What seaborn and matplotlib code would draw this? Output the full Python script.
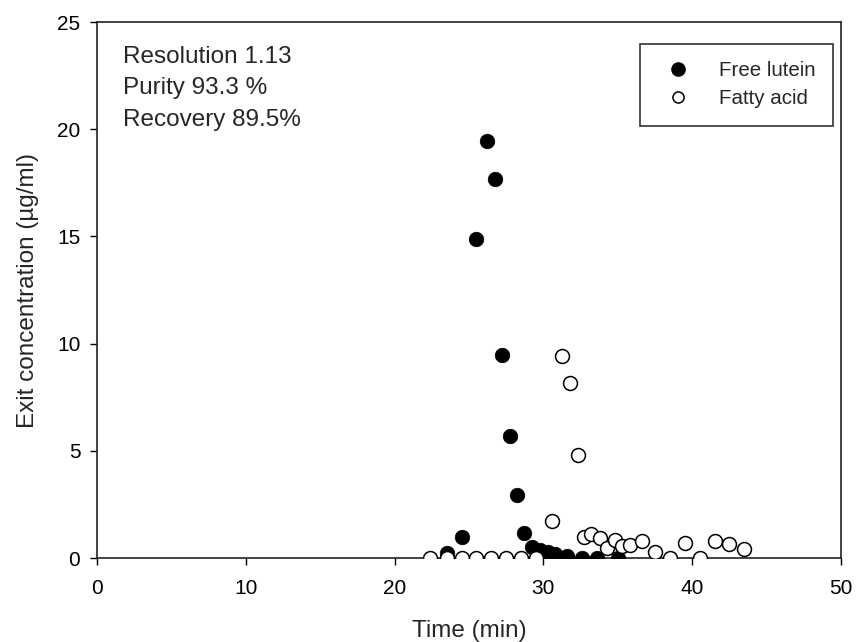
import pandas as pd
import matplotlib
matplotlib.use("Agg")
import matplotlib.pyplot as plt
import seaborn as sns
from matplotlib.lines import Line2D

# Free lutein (filled circles)
lutein_time = [23.5, 24.5, 25.5, 26.2, 26.75, 27.2, 27.75, 28.2, 28.7, 29.2, 29.8, 30.3, 30.8, 31.6, 32.6, 33.6, 35.0]
lutein_conc = [0.25, 1.0, 14.9, 19.45, 17.7, 9.47, 5.7, 2.95, 1.17, 0.52, 0.37, 0.28, 0.2, 0.1, 0.0, 0.0, 0.0]

# Fatty acid (open circles)
fatty_time = [22.4, 23.5, 24.5, 25.5, 26.5, 27.5, 28.5, 29.5, 30.6, 31.25, 31.8, 32.3, 32.7, 33.2, 33.8,
              34.3, 34.8, 35.3, 35.8, 36.6, 37.5, 38.5, 39.5, 40.5, 41.5, 42.5, 43.5]
fatty_conc = [0.0, 0.0, 0.0, 0.0, 0.0, 0.0, 0.0, 0.0, 1.73, 9.4, 8.15, 4.8, 1.0, 1.1, 0.95,
              0.45, 0.85, 0.55, 0.6, 0.8, 0.3, 0.0, 0.7, 0.0, 0.8, 0.65, 0.42]

annotation_lines = ["Resolution 1.13", "Purity 93.3 %", "Recovery 89.5%"]

sns.set_style("ticks")
plt.rcParams['font.family'] = ['Liberation Sans', 'DejaVu Sans']

lutein = pd.DataFrame({"time": lutein_time, "conc": lutein_conc})
fatty = pd.DataFrame({"time": fatty_time, "conc": fatty_conc})

fig = plt.figure(figsize=(8.56, 6.42), dpi=100)
ax = fig.add_axes([0.1133, 0.1308, 0.8692, 0.8349])

sns.scatterplot(data=lutein, x="time", y="conc", ax=ax, color="black", edgecolor="black",
                s=110, linewidth=0.5, zorder=3)
sns.scatterplot(data=fatty, x="time", y="conc", ax=ax, facecolor="white", edgecolor="black",
                s=100, linewidth=1.1, zorder=4)

ax.set_xlim(0, 50)
ax.set_ylim(0, 25)
ax.set_xticks([0, 10, 20, 30, 40, 50])
ax.set_yticks([0, 5, 10, 15, 20, 25])
ax.tick_params(axis="both", direction="out", labelsize=15, width=1, length=5,
               color="black", labelcolor="black")
ax.tick_params(axis="x", pad=10)
ax.tick_params(axis="y", pad=7)
for sp in ax.spines.values():
    sp.set_visible(True)
    sp.set_color("#222222")
    sp.set_linewidth(1.2)

ax.set_xlabel("Time (min)", fontsize=17.5, labelpad=16)
ax.set_ylabel("Exit concentration (µg/ml)", fontsize=17.5, labelpad=13)

ax.text(0.035, 0.955, "\n".join(annotation_lines), transform=ax.transAxes, fontsize=17.5,
        va="top", ha="left", linespacing=1.55)

handles = [
    Line2D([], [], marker="o", linestyle="none", color="black", markersize=9.5),
    Line2D([], [], marker="o", linestyle="none", markerfacecolor="white", markeredgecolor="black",
           markersize=8, markeredgewidth=1.1),
]
leg = ax.legend(handles, ["Free lutein", "Fatty acid"], loc="upper right",
                bbox_to_anchor=(0.989, 0.959), fontsize=14.8, frameon=True, fancybox=False,
                edgecolor="black", borderpad=0.85, handletextpad=1.0, labelspacing=0.42,
                handlelength=2.0, borderaxespad=0)
leg.get_frame().set_linewidth(1.2)

fig.savefig("out.png", dpi=100)
